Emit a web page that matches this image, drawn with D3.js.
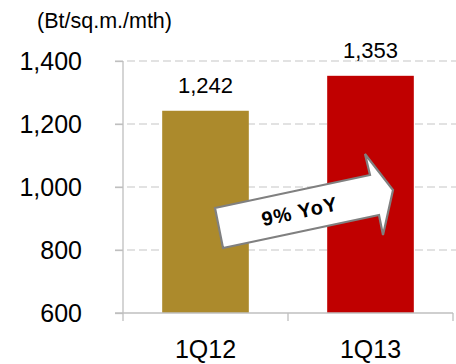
<!DOCTYPE html>
<html><head><meta charset="utf-8">
<script src="https://cdn.jsdelivr.net/npm/d3@7"></script>
<style>body{margin:0;background:#fff}svg{display:block}text{font-family:Arial,"Liberation Sans",sans-serif}</style>
</head><body><svg id="c" width="456" height="364"></svg>
<script>
const categories = ["1Q12", "1Q13"];
const values = [1242, 1353];
const barColors = ["#AC8A2C", "#C00000"];
const yTicks = [600, 800, 1000, 1200, 1400];
const unitLabel = "(Bt/sq.m./mth)";
const growthLabel = "9% YoY";

const svg = d3.select("#c");
const x0 = 123, x1 = 453, yTop = 61, yBot = 313;
const x = d3.scaleBand().domain(categories).range([x0, x1]).paddingInner(0.475).paddingOuter(0.2375);
const y = d3.scaleLinear().domain([600, 1400]).range([yBot, yTop]);
const fmt = d3.format(",");

// gridlines
svg.append("g").selectAll("line").data(yTicks.filter(d => d > 600)).join("line")
  .attr("x1", 115).attr("x2", 456).attr("y1", d => y(d)).attr("y2", d => y(d))
  .attr("stroke", "#d9d9d9").attr("stroke-width", 1.3).attr("stroke-dasharray", "8,4");

// y axis
const yAxis = svg.append("g").attr("transform", `translate(${x0},0)`)
  .call(d3.axisLeft(y).tickValues(yTicks).tickSize(8).tickFormat(fmt));
yAxis.select(".domain").attr("stroke", "#bfbfbf").attr("stroke-width", 1.3).attr("d", `M0,${yTop}V${yBot}`);
yAxis.selectAll(".tick line").attr("stroke", "#bfbfbf").attr("stroke-width", 1.3);
yAxis.selectAll(".tick text").attr("x", -41).attr("font-size", 25).attr("fill", "#000")
  .attr("font-family", "Arial, 'Liberation Sans', sans-serif");

// bars
svg.append("g").selectAll("rect").data(values).join("rect")
  .attr("x", (d, i) => x(categories[i])).attr("width", x.bandwidth())
  .attr("y", d => y(d)).attr("height", d => yBot - y(d))
  .attr("fill", (d, i) => barColors[i]);

// value labels
svg.append("g").selectAll("text").data(values).join("text")
  .attr("x", (d, i) => x(categories[i]) + x.bandwidth() / 2)
  .attr("y", d => y(d) - 18).attr("text-anchor", "middle")
  .attr("font-size", 22).attr("fill", "#000").text(d => fmt(d));

// x axis
const xb = d3.scaleLinear().domain([0, 2]).range([x0, x1]);
const xa = svg.append("g");
xa.append("line").attr("x1", 115).attr("x2", x1).attr("y1", yBot).attr("y2", yBot)
  .attr("stroke", "#bfbfbf").attr("stroke-width", 1.3);
xa.selectAll("line.t").data([0, 1, 2]).join("line").attr("class", "t")
  .attr("x1", d => xb(d)).attr("x2", d => xb(d)).attr("y1", yBot).attr("y2", yBot + 8)
  .attr("stroke", "#bfbfbf").attr("stroke-width", 1.3);
xa.selectAll("text").data(categories).join("text")
  .attr("x", d => x(d) + x.bandwidth() / 2).attr("y", 358)
  .attr("text-anchor", "middle").attr("font-size", 25).attr("fill", "#000").text(d => d);

// unit label
svg.append("text").attr("x", 37).attr("y", 28).attr("font-size", 21.5).attr("fill", "#000").text(unitLabel);

// growth arrow
const arrowPts = [[215,208],[370,175],[365,154],[393,190],[383,235],[379,215],[223,248]];
svg.append("path").attr("d", d3.line()(arrowPts) + "Z")
  .attr("fill", "#fff").attr("stroke", "#808080").attr("stroke-width", 2.2).attr("stroke-linejoin", "miter");
svg.append("text").attr("transform", "translate(300,213) rotate(-12)")
  .attr("text-anchor", "middle").attr("dominant-baseline", "middle")
  .attr("font-size", 20).attr("font-weight", "bold").attr("letter-spacing", 1).attr("fill", "#000").text(growthLabel);
</script></body></html>
